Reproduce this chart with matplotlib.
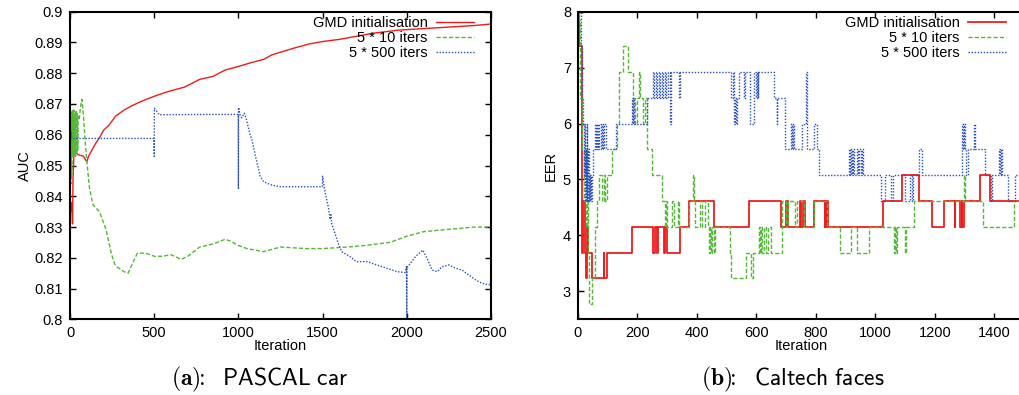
import matplotlib
matplotlib.use('Agg')
import matplotlib.pyplot as plt

plt.rcParams['font.family'] = ['Liberation Sans', 'DejaVu Sans']
plt.rcParams['mathtext.fontset'] = 'cm'

# ---------------- (a) PASCAL car : AUC vs iteration ----------------
gmd_a_x = [0, 5, 10, 15, 18, 22, 25, 30, 50, 80, 100, 110, 130, 150, 175, 200, 230, 270, 320,
           370, 430, 500, 580, 680, 770, 850, 920, 1000, 1080, 1150, 1200, 1320, 1420, 1500,
           1600, 1700, 1800, 1950, 2100, 2250, 2400, 2500]
gmd_a_y = [0.837, 0.835, 0.838, 0.831, 0.846, 0.852, 0.855, 0.8545, 0.8535, 0.853, 0.8512,
           0.853, 0.855, 0.857, 0.859, 0.8615, 0.863, 0.866, 0.868, 0.8695, 0.871, 0.8725,
           0.874, 0.8755, 0.878, 0.879, 0.881, 0.8822, 0.8835, 0.8845, 0.886, 0.888, 0.8895,
           0.8903, 0.891, 0.892, 0.893, 0.894, 0.8945, 0.895, 0.8955, 0.896]

it10_a_x = [0, 3, 5, 8, 10, 13, 16, 19, 22, 25, 28, 31, 34, 37, 40, 43, 46, 49, 55, 62, 71,
            80, 90, 99, 115, 135, 140, 175, 215, 245, 265, 280, 320, 345, 370, 400, 450, 500,
            550, 600, 660, 700, 770, 850, 920, 950, 1000, 1050, 1100, 1150, 1250, 1400, 1500,
            1650, 1750, 1900, 2000, 2100, 2200, 2300, 2400, 2500]
it10_a_y = [0.845, 0.861, 0.844, 0.866, 0.847, 0.868, 0.853, 0.868, 0.853, 0.868, 0.854,
            0.867, 0.853, 0.868, 0.854, 0.867, 0.855, 0.866, 0.865, 0.869, 0.8715, 0.866,
            0.858, 0.852, 0.843, 0.8375, 0.837, 0.835, 0.829, 0.8215, 0.818, 0.817, 0.8155,
            0.815, 0.818, 0.8215, 0.8215, 0.8205, 0.8205, 0.821, 0.8195, 0.8205, 0.8235,
            0.8245, 0.826, 0.8255, 0.824, 0.823, 0.8225, 0.822, 0.8235, 0.823, 0.823, 0.8235,
            0.824, 0.825, 0.827, 0.8285, 0.829, 0.8295, 0.830, 0.830]

it500_a_x = [0, 3, 6, 10, 20, 300, 499, 500, 501, 510, 530, 800, 999, 1000, 1001, 1010, 1020,
             1035, 1045, 1070, 1080, 1100, 1130, 1150, 1200, 1250, 1499, 1500, 1514, 1534,
             1545, 1550, 1554, 1573, 1593, 1613, 1663, 1702, 1762, 1821, 1881, 1940, 1990,
             1999, 2000, 2001, 2005, 2052, 2095, 2121, 2151, 2180, 2210, 2250, 2290, 2329,
             2369, 2409, 2448, 2488, 2500]
it500_a_y = [0.8604, 0.858, 0.861, 0.859, 0.8588, 0.8588, 0.8588, 0.853, 0.8686, 0.868,
             0.8665, 0.8666, 0.8666, 0.8423, 0.8689, 0.8665, 0.8655, 0.867, 0.8655, 0.860,
             0.8585, 0.8534, 0.8464, 0.8447, 0.8436, 0.8431, 0.8431, 0.8465, 0.8415, 0.8366,
             0.8325, 0.834, 0.8312, 0.828, 0.8247, 0.822, 0.8204, 0.8187, 0.8188, 0.8177,
             0.8166, 0.8155, 0.8152, 0.8173, 0.800, 0.817, 0.817, 0.8204, 0.8225, 0.8198,
             0.816, 0.8155, 0.8171, 0.8177, 0.8166, 0.816, 0.8144, 0.8128, 0.8117, 0.8112,
             0.8117]

auc_ticks = [0.8, 0.81, 0.82, 0.83, 0.84, 0.85, 0.86, 0.87, 0.88, 0.89, 0.9]
iter_a_ticks = [0, 500, 1000, 1500, 2000, 2500]

# ---------------- (b) Caltech faces : EER vs iteration (steps) ----------------
gmd_b_x = [0, 3, 12, 15, 18, 22, 26, 30, 34, 47, 86, 89, 97, 181, 252, 260, 266, 270, 289,
           292, 299, 343, 374, 457, 575, 681, 698, 706, 747, 750, 755, 765, 793, 830, 832,
           835, 837, 839, 1025, 1089, 1148, 1190, 1230, 1267, 1269, 1286, 1290, 1292, 1297,
           1353, 1384, 1480]
gmd_b_y = [8.0, 7.38, 6.0, 3.69, 4.62, 3.69, 3.23, 4.15, 3.69, 3.23, 3.69, 3.23, 3.69, 4.15,
           3.69, 4.15, 3.69, 4.15, 3.69, 4.15, 3.69, 4.15, 4.62, 4.15, 4.62, 4.15, 4.62, 4.15,
           4.62, 4.15, 4.62, 4.15, 4.62, 4.15, 4.62, 4.15, 4.62, 4.15, 4.62, 5.08, 4.62, 4.15,
           4.62, 4.15, 4.62, 4.15, 4.62, 4.15, 4.62, 5.08, 4.62, 4.62]

it10_b_x = [0, 5, 8, 14, 20, 26, 30, 34, 38, 48, 56, 63, 72, 80, 86, 92, 98, 116, 130, 138,
            150, 168, 186, 192, 200, 206, 210, 218, 224, 232, 249, 283, 292, 296, 300, 315,
            322, 336, 340, 373, 386, 389, 394, 410, 418, 428, 436, 440, 444, 448, 452, 456,
            460, 510, 514, 565, 581, 590, 608, 612, 616, 620, 626, 632, 640, 648, 686, 700,
            706, 730, 736, 760, 793, 837, 880, 917, 937, 977, 1062, 1066, 1069, 1072, 1100,
            1104, 1129, 1297, 1300, 1361, 1465, 1480]
it10_b_y = [8.0, 7.85, 6.46, 5.54, 4.62, 4.15, 4.62, 3.69, 2.77, 3.23, 4.15, 4.62, 5.08, 4.62,
            5.08, 4.62, 5.08, 5.54, 6.0, 6.92, 7.38, 6.92, 6.46, 6.0, 6.46, 6.92, 6.46, 6.0,
            6.46, 5.54, 5.08, 4.62, 4.15, 4.62, 4.15, 4.62, 4.15, 4.62, 4.15, 4.62, 5.08, 4.62,
            4.15, 4.62, 4.15, 4.62, 4.15, 3.69, 4.15, 3.69, 4.15, 3.69, 4.15, 3.69, 3.23, 3.69,
            3.23, 3.69, 4.15, 3.69, 4.15, 3.69, 4.15, 3.69, 4.15, 3.69, 4.62, 4.15, 4.62, 4.15,
            4.62, 4.15, 4.62, 4.15, 3.69, 4.15, 3.69, 4.15, 3.69, 4.15, 3.69, 4.15, 3.69, 4.15,
            4.62, 5.08, 4.62, 4.15, 4.62, 4.62]

it500_b_x = [0, 10, 14, 17, 20, 22, 24, 26, 28, 30, 32, 34, 36, 38, 40, 42, 44, 46, 50, 56,
             60, 64, 68, 72, 76, 80, 84, 88, 93, 127, 182, 184, 186, 188, 232, 252, 256, 262,
             266, 272, 276, 282, 286, 292, 296, 302, 308, 312, 340, 343, 516, 520, 524, 528,
             532, 536, 541, 557, 560, 578, 591, 600, 602, 604, 606, 659, 668, 670, 697, 716,
             719, 722, 726, 753, 766, 770, 793, 804, 810, 911, 914, 917, 920, 924, 927, 937,
             941, 945, 950, 955, 960, 1018, 1032, 1052, 1060, 1100, 1115, 1123, 1128, 1146,
             1156, 1290, 1294, 1297, 1300, 1305, 1312, 1331, 1334, 1370, 1388, 1392, 1415,
             1418, 1421, 1425, 1445, 1470, 1480]
it500_b_y = [8.0, 7.38, 6.46, 6.0, 5.08, 6.0, 4.62, 5.54, 4.62, 6.0, 4.62, 5.54, 4.62, 5.08,
             4.62, 5.08, 4.62, 5.08, 5.54, 6.0, 5.54, 6.0, 5.54, 6.0, 5.54, 6.0, 5.54, 6.0,
             5.54, 6.0, 6.46, 6.0, 6.46, 6.0, 6.46, 6.92, 6.46, 6.92, 6.46, 6.92, 6.46, 6.92,
             6.46, 6.92, 6.46, 6.92, 6.0, 6.92, 6.46, 6.92, 6.46, 6.92, 6.0, 6.46, 6.0, 6.46,
             6.92, 6.46, 6.92, 6.0, 6.92, 6.46, 6.92, 6.46, 6.92, 6.46, 6.0, 6.46, 5.54, 6.0,
             5.54, 6.0, 5.54, 6.0, 6.92, 5.54, 6.0, 5.54, 5.08, 5.54, 5.08, 5.54, 5.08, 5.54,
             5.08, 5.54, 5.08, 5.54, 5.08, 5.54, 5.08, 4.62, 5.08, 4.62, 5.08, 4.62, 5.08, 4.62,
             5.08, 5.54, 5.08, 6.0, 5.54, 6.0, 5.54, 5.08, 5.54, 6.0, 5.54, 5.08, 4.62, 5.08,
             5.54, 5.08, 5.54, 5.08, 4.62, 5.08, 5.08]

eer_ticks = [3, 4, 5, 6, 7, 8]
iter_b_ticks = [0, 200, 400, 600, 800, 1000, 1200, 1400]

labels = ['GMD initialisation', '5 * 10 iters', '5 * 500 iters']
red, green, blue = '#ee1c1c', '#55b836', '#2a4fc0'

fig = plt.figure(figsize=(10.19, 3.95), dpi=100)
ax1 = fig.add_axes([0.0687, 0.1916, 0.4131, 0.7788])
ax2 = fig.add_axes([0.5672, 0.1916, 0.4378, 0.7788])

ax1.plot(gmd_a_x, gmd_a_y, color=red, lw=1.0, label=labels[0])
ax1.plot(it10_a_x, it10_a_y, color=green, lw=1.0, dashes=(3, 1.5), label=labels[1])
ax1.plot(it500_a_x, it500_a_y, color=blue, lw=1.0, dashes=(1, 1.2), label=labels[2])
ax1.set_xlim(0, 2500)
ax1.set_ylim(0.8, 0.9)
ax1.set_xticks(iter_a_ticks)
ax1.set_yticks(auc_ticks)
ax1.set_yticklabels(['%g' % t for t in auc_ticks])
ax1.set_ylabel('AUC', labelpad=2)

ax2.plot(gmd_b_x, gmd_b_y, color=red, lw=1.3, drawstyle='steps-post', label=labels[0])
ax2.plot(it10_b_x, it10_b_y, color=green, lw=1.0, dashes=(3, 1.5), drawstyle='steps-post',
         label=labels[1])
ax2.plot(it500_b_x, it500_b_y, color=blue, lw=1.0, dashes=(1, 1.2), drawstyle='steps-post',
         label=labels[2])
ax2.set_xlim(0, 1500)
ax2.set_ylim(2.5, 8)
ax2.set_xticks(iter_b_ticks)
ax2.set_yticks(eer_ticks)
ax2.set_ylabel('EER', labelpad=4)

for ax in (ax1, ax2):
    for s in ax.spines.values():
        s.set_linewidth(1.5)
    ax.tick_params(direction='in', length=4, width=1, top=True, right=True,
                   labelsize=10.5, pad=5)
    ax.set_xlabel('Iteration', fontsize=10.5, labelpad=-1)
    ax.yaxis.label.set_size(10.5)
    ax.legend(loc='upper right', bbox_to_anchor=(0.96, 0.985), frameon=False,
              markerfirst=False, fontsize=10.5, handlelength=2.6, handletextpad=0.6,
              labelspacing=0.05, borderpad=0, borderaxespad=0)
# right edge of panel (b) is cut off in the original
ax2.tick_params(right=False)
ax2.spines['right'].set_visible(False)

# captions
fig.text(0.255, 0.025, r'$\mathbf{(a)}\!\!\mathbf{:}\ \ \mathsf{PASCAL\ car}$',
         fontsize=17, ha='center')
fig.text(0.778, 0.025, r'$\mathbf{(b)}\!\!\mathbf{:}\ \ \mathsf{Caltech\ faces}$',
         fontsize=17, ha='center')

fig.savefig('out.png', dpi=100)
